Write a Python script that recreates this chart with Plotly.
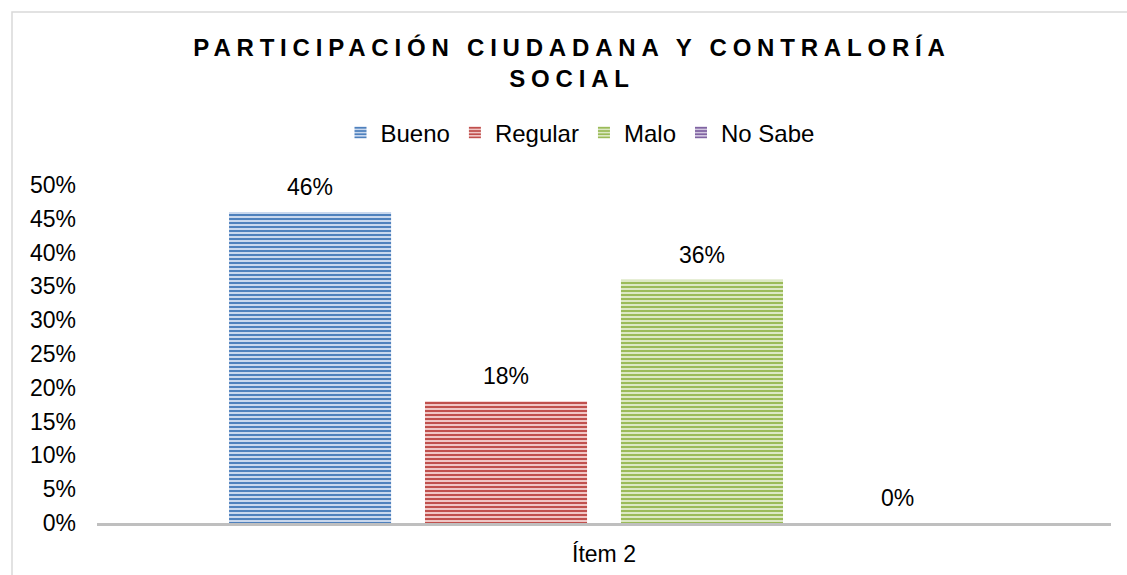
import plotly.graph_objects as go

categories = ["Ítem 2"]
series_names = ["Bueno", "Regular", "Malo", "No Sabe"]
series_values = [0.46, 0.18, 0.36, 0.0]
fg_colors = ["#4f81bd", "#c0504d", "#9bbb59", "#8064a2"]
bg_colors = ["#c9d8ee", "#f0c6c5", "#dce8c4", "#d2c7e0"]
y_ticks = [0, 0.05, 0.10, 0.15, 0.20, 0.25, 0.30, 0.35, 0.40, 0.45, 0.50]

FONT = "Arial, 'Liberation Sans', sans-serif"

W, H = 1127, 575
L, R, T, B = 97, 16, 185, 52
pw = W - L - R
ph = H - T - B
BARGAP = 0.227
BARGROUPGAP = 0.173

def px_x(p):
    return (p - L) / pw

def px_y(p):
    return (H - B - p) / ph

fig = go.Figure()
n = len(series_names)
slot = pw * (1 - BARGAP) / n
annotations = []
for i, (name, val, fg, bg) in enumerate(zip(series_names, series_values, fg_colors, bg_colors)):
    fig.add_trace(go.Bar(
        name=name,
        x=categories,
        y=[val],
        marker=dict(
            color=fg,
            line=dict(width=0),
            pattern=dict(shape="-", fgcolor=fg, bgcolor=bg, size=4, solidity=0.5, fillmode="replace"),
        ),
    ))
    annotations.append(dict(
        x=categories[0], y=val, xref="x", yref="y",
        text=f"{val:.0%}",
        showarrow=False,
        xshift=(i - (n - 1) / 2) * slot,
        yshift=25,
        yanchor="middle",
        font=dict(family=FONT, size=23, color="#000000"),
    ))

fig.update_layout(
    width=W,
    height=H,
    margin=dict(l=L, r=R, t=T, b=B, autoexpand=False),
    paper_bgcolor="white",
    plot_bgcolor="white",
    barmode="group",
    bargap=BARGAP,
    bargroupgap=BARGROUPGAP,
    font=dict(family=FONT, size=23, color="#000000"),
    title=dict(
        text="PARTICIPACIÓN CIUDADANA Y CONTRALORÍA<br>SOCIAL",
        font=dict(family=FONT, size=24, color="#000000", weight="bold"),
        x=572 / W,
        xref="container",
        xanchor="center",
        y=1 - 56 / H,
        yref="container",
        yanchor="top",
    ),
    legend=dict(
        orientation="h",
        x=px_x(580),
        xanchor="center",
        y=px_y(133),
        yanchor="middle",
        font=dict(family=FONT, size=24, color="#000000"),
        itemwidth=30,
        traceorder="normal",
    ),
    xaxis=dict(
        showline=True,
        linecolor="#bfbfbf",
        linewidth=3,
        showgrid=False,
        ticks="",
        ticklabelstandoff=8,
        automargin=False,
        tickfont=dict(family=FONT, size=23, color="#000000"),
    ),
    yaxis=dict(
        range=[0, 0.5],
        tickvals=y_ticks,
        tickformat=".0%",
        showline=False,
        showgrid=False,
        zeroline=False,
        ticks="",
        ticklabelstandoff=20,
        automargin=False,
        tickfont=dict(family=FONT, size=23, color="#000000"),
    ),
    annotations=annotations,
    shapes=[dict(
        type="rect",
        xref="paper", yref="paper",
        x0=px_x(12), x1=px_x(1140),
        y0=px_y(590), y1=px_y(12),
        line=dict(color="#d9d9d9", width=1.5),
        fillcolor="rgba(0,0,0,0)",
        layer="below",
    )],
)

post = ("var s=document.createElement('style');"
        "s.innerHTML='body{margin:0;padding:0;} .gtitle{letter-spacing:5.8px;}';"
        "document.head.appendChild(s);")

fig.write_html("out.html", post_script=post, config={"displayModeBar": False})
